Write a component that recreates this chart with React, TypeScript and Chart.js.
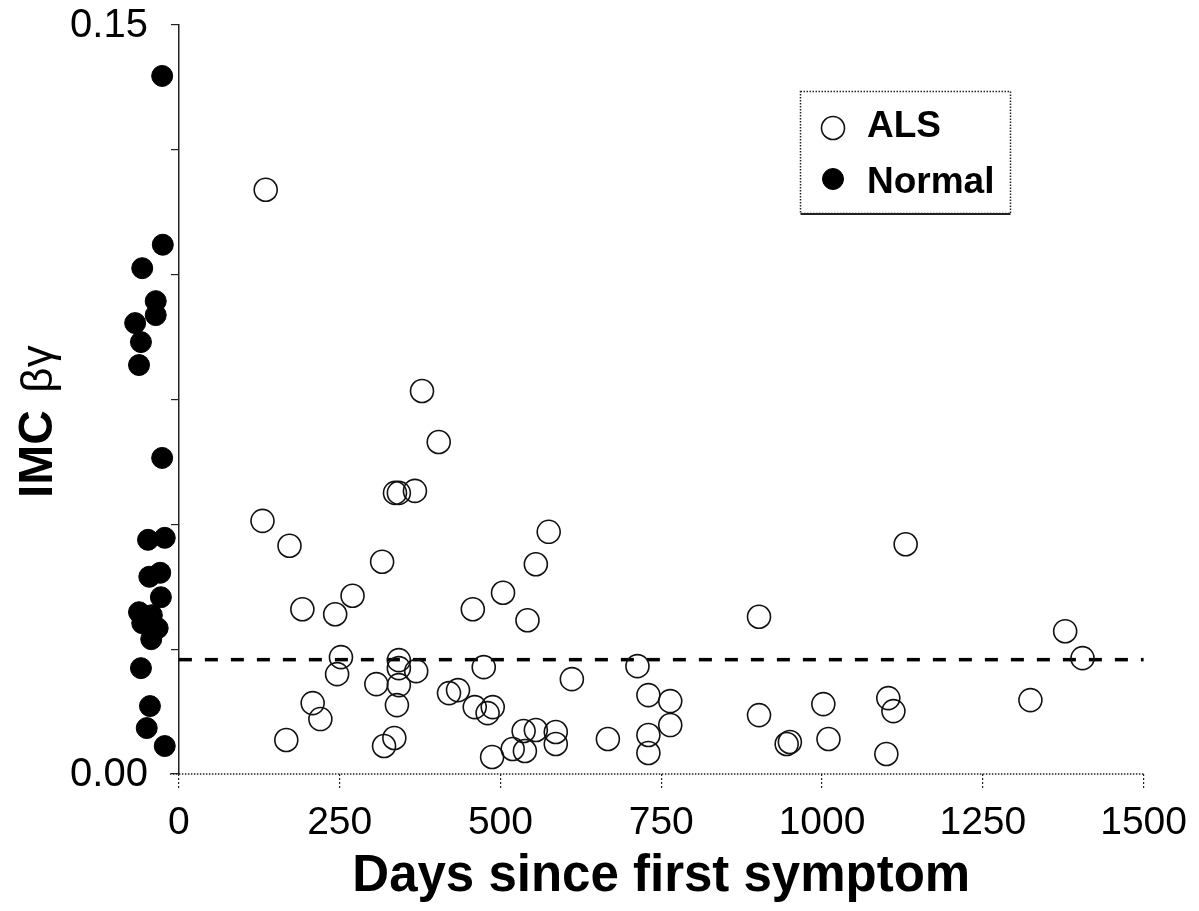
import React, { useEffect, useRef } from "react";
import { Chart, registerables } from "chart.js";

Chart.register(...registerables);

// ---- data ----
const seriesLabels = ["ALS", "Normal"];

const alsDays = [
  135, 378, 404, 336, 342, 367, 130, 172, 316, 575, 555, 270, 504, 192, 243, 457,
  542, 252, 246, 208, 220, 167, 307, 342, 342, 342, 339, 369, 319, 335, 420, 434,
  460, 480, 488, 474, 487, 519, 538, 536, 555, 586, 586, 611, 713, 902, 730, 764,
  764, 730, 730, 667, 902, 1002, 945, 950, 1010, 1103, 1111, 1100, 1324, 1378, 1405, 1130,
];
const alsValues = [
  0.117, 0.0767, 0.0665, 0.0563, 0.0563, 0.0567, 0.0507, 0.0457, 0.0425, 0.0485, 0.042, 0.0357, 0.0363, 0.033, 0.032, 0.033,
  0.0308, 0.0234, 0.02, 0.0142, 0.011, 0.0068, 0.018, 0.0228, 0.0212, 0.0178, 0.0138, 0.0206, 0.0056, 0.0072, 0.0162, 0.0168,
  0.0134, 0.0122, 0.0134, 0.0214, 0.0034, 0.005, 0.0046, 0.0086, 0.0088, 0.0084, 0.006, 0.019, 0.0216, 0.0315, 0.0158, 0.0146,
  0.0098, 0.0078, 0.0042, 0.007, 0.0118, 0.014, 0.006, 0.0064, 0.007, 0.0152, 0.0126, 0.004, 0.0148, 0.0286, 0.0232, 0.046,
];

const normalDays = [
  -26, -25, -57, -36, -36, -68, -59, -62, -26, -48, -22, -29, -46, -28, -62, -42,
  -57, -33, -43, -59, -45, -50, -22,
];
const normalValues = [
  0.1398, 0.106, 0.1013, 0.0947, 0.0919, 0.0903, 0.0865, 0.0819, 0.0633, 0.0469, 0.0473, 0.0403, 0.0395, 0.0354, 0.0324, 0.0318,
  0.0302, 0.0292, 0.027, 0.0212, 0.0136, 0.0092, 0.0056,
];

const thresholdValue = 0.0229;
const thresholdDays = [0, 1500];

// visible extent of the dotted x axis line
const xAxisLineDays = [-14, 1500];

const xTicks = [0, 250, 500, 750, 1000, 1250, 1500];
const yTicks = [0, 0.025, 0.05, 0.075, 0.1, 0.125, 0.15];
const yLabeledTicks = [0, 0.15];

const xTitle = "Days since first symptom";
const yTitleMain = "IMC";
const yTitleSymbol = "βγ";

const FONT = "'Liberation Sans', Arial, Helvetica, sans-serif";

export default function App() {
  const canvasRef = useRef<HTMLCanvasElement | null>(null);

  useEffect(() => {
    const canvas = canvasRef.current;
    if (!canvas) return;

    const overlay = {
      id: "overlay",
      afterDraw(chart: any) {
        const ctx = chart.ctx as CanvasRenderingContext2D;
        const xs = chart.scales.x;
        const ys = chart.scales.y;
        const x0 = xs.getPixelForValue(0);

        // y tick labels (only the labelled ones)
        ctx.save();
        ctx.fillStyle = "#000";
        ctx.font = `40px ${FONT}`;
        ctx.textAlign = "right";
        ctx.textBaseline = "middle";
        yLabeledTicks.forEach((v) => {
          ctx.fillText(v.toFixed(2), x0 - 31, ys.getPixelForValue(v) + 1);
        });
        ctx.restore();

        // x axis title, centred on the 0..1500 span
        ctx.save();
        ctx.fillStyle = "#000";
        ctx.font = `bold 51px ${FONT}`;
        ctx.textAlign = "center";
        ctx.textBaseline = "middle";
        const midX = (xs.getPixelForValue(xTicks[0]) + xs.getPixelForValue(xTicks[xTicks.length - 1])) / 2;
        ctx.fillText(xTitle, midX, ys.bottom + 103);
        ctx.restore();

        // y axis title (rotated, mixed fonts)
        ctx.save();
        ctx.translate(x0 - 127, 498);
        ctx.rotate(-Math.PI / 2);
        ctx.fillStyle = "#000";
        ctx.textAlign = "left";
        ctx.textBaseline = "alphabetic";
        ctx.font = `bold 48px ${FONT}`;
        ctx.fillText(yTitleMain, 0, 0);
        const w = ctx.measureText(yTitleMain + " ").width;
        ctx.font = `44px ${FONT}`;
        ctx.fillText(yTitleSymbol, w + 4, 0);
        ctx.restore();

        // legend box
        const bx = 800.5, by = 91.5, bw = 210, bh = 122;
        ctx.save();
        ctx.strokeStyle = "#222";
        ctx.lineWidth = 1.5;
        ctx.setLineDash([1.5, 1.5]);
        ctx.strokeRect(bx, by, bw, bh);
        ctx.setLineDash([]);
        ctx.lineWidth = 2;
        ctx.beginPath();
        ctx.moveTo(bx, by + bh + 0.5);
        ctx.lineTo(bx + bw, by + bh + 0.5);
        ctx.stroke();

        const markerY = [128, 179];
        const textY = [137, 193];
        [0, 1].forEach((i) => {
          const ds = chart.data.datasets[i];
          ctx.beginPath();
          ctx.arc(833, markerY[i], ds.pointRadius, 0, Math.PI * 2);
          ctx.fillStyle = ds.backgroundColor;
          ctx.fill();
          ctx.lineWidth = ds.borderWidth;
          ctx.strokeStyle = ds.borderColor;
          ctx.stroke();
          ctx.fillStyle = "#000";
          ctx.font = `bold 37px ${FONT}`;
          ctx.textAlign = "left";
          ctx.textBaseline = "alphabetic";
          ctx.fillText(ds.label, 867, textY[i]);
        });
        ctx.restore();
      },
    };

    const chart = new Chart(canvas, {
      type: "scatter",
      data: {
        datasets: [
          {
            label: seriesLabels[0],
            data: alsDays.map((d, i) => ({ x: d, y: alsValues[i] })),
            pointRadius: 11.5,
            borderWidth: 1.6,
            borderColor: "#111",
            backgroundColor: "rgba(0,0,0,0)",
            clip: false,
          },
          {
            label: seriesLabels[1],
            data: normalDays.map((d, i) => ({ x: d, y: normalValues[i] })),
            pointRadius: 10.5,
            borderWidth: 1,
            borderColor: "#000",
            backgroundColor: "#000",
            clip: false,
          },
          {
            type: "line",
            label: "threshold",
            data: thresholdDays.map((d) => ({ x: d, y: thresholdValue })),
            borderColor: "#000",
            borderWidth: 3.5,
            borderDash: [13, 13],
            pointRadius: 0,
            showLine: true,
            fill: false,
            clip: false,
          } as any,
          {
            type: "line",
            label: "x axis",
            data: xAxisLineDays.map((d) => ({ x: d, y: 0 })),
            borderColor: "#222",
            borderWidth: 1.5,
            borderDash: [1.5, 1.5],
            pointRadius: 0,
            showLine: true,
            fill: false,
            clip: false,
          } as any,
        ],
      },
      options: {
        responsive: false,
        animation: false,
        events: [],
        layout: { padding: { left: 121, top: 25, right: 52, bottom: 0 } },
        plugins: { legend: { display: false }, tooltip: { enabled: false } },
        scales: {
          x: {
            type: "linear",
            position: "bottom",
            min: -90,
            max: 1500,
            afterBuildTicks: (s: any) => {
              s.ticks = xTicks.map((v) => ({ value: v }));
            },
            afterFit: (s: any) => {
              s.height = 137;
            },
            grid: {
              drawOnChartArea: false,
              drawTicks: true,
              tickLength: 14,
              color: "#222",
              lineWidth: 1.2,
              tickBorderDash: [2, 2],
            },
            border: { display: false },
            ticks: {
              color: "#000",
              font: { family: FONT, size: 39 },
              padding: 12,
              maxRotation: 0,
              autoSkip: false,
              callback: (v: any) => String(v),
            },
            title: { display: false },
          },
          y: {
            type: "linear",
            position: { x: 0 } as any,
            min: 0,
            max: 0.15,
            afterBuildTicks: (s: any) => {
              s.ticks = yTicks.map((v) => ({ value: v }));
            },
            afterFit: (s: any) => {
              s.paddingTop = 0;
              s.paddingBottom = 0;
            },
            grid: {
              drawOnChartArea: false,
              drawTicks: true,
              tickLength: 7,
              color: "#222",
              lineWidth: 1.2,
            },
            border: { display: true, color: "#222", width: 1.5, dash: [1.5, 1.5] },
            ticks: {
              padding: 0,
              autoSkip: false,
              callback: () => "",
            },
          },
        },
      },
      plugins: [overlay],
    } as any);

    return () => chart.destroy();
  }, []);

  return (
    <div style={{ position: "absolute", left: 0, top: 0, width: 1199, height: 911, background: "#fff" }}>
      <canvas ref={canvasRef} width={1199} height={911} style={{ display: "block" }} />
    </div>
  );
}
